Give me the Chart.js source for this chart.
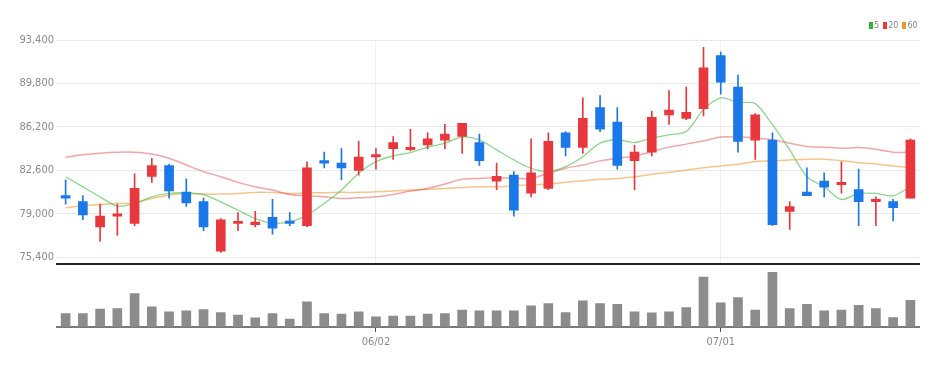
<!DOCTYPE html>
<html lang="en">
<head>
    <meta charset="UTF-8">
    <title>Price chart</title>
    <style>
        body { margin: 0; background: #fff; }
        .wrap { position: relative; width: 950px; height: 367px; }
        #priceChart { position: absolute; left: 0; top: 0; }
        #volumeChart { position: absolute; left: 0; top: 266px; }
        .legend {
            position: absolute; left: 869px; top: 20px;
            display: flex; align-items: center;
            font: 9px 'Liberation Sans Narrow', 'DejaVu Sans Condensed', Arial, sans-serif;
            color: #888;
        }
        .legend .box { width: 4px; height: 7px; margin-right: 1px; }
        .legend .txt { margin-right: 4px; }
    </style>
    <script src="https://cdn.jsdelivr.net/npm/chart.js"></script>
</head>
<body>
<div class="wrap">
    <canvas id="priceChart" width="950" height="274"></canvas>
    <canvas id="volumeChart" width="950" height="101"></canvas>
    <div class="legend"><span class="box" style="background:#2db82d"></span><span class="txt">5</span><span class="box" style="background:#e8383d"></span><span class="txt">20</span><span class="box" style="background:#f0962d"></span><span class="txt">60</span></div>
</div>

<script>
    // trading days (2022)
    const dates = ['05/06','05/09','05/10','05/11','05/12','05/13','05/16','05/17','05/18','05/19',
        '05/20','05/23','05/24','05/25','05/26','05/27','05/30','05/31','06/02','06/03',
        '06/07','06/08','06/09','06/10','06/13','06/14','06/15','06/16','06/17','06/20',
        '06/21','06/22','06/23','06/24','06/27','06/28','06/29','06/30','07/01','07/04',
        '07/05','07/06','07/07','07/08','07/11','07/12','07/13','07/14','07/15','07/18'];
    const tickDates = ['06/02', '07/01'];
    const priceTicks = [75400, 79000, 82600, 86200, 89800, 93400];

    // OHLC
    const open  = [80500,80000,77900,78800,78200,82100,83000,80800,80000,75900,
                   78200,78100,78700,78400,78000,83400,83200,82600,83700,84400,
                   84300,84700,85100,85400,84900,81700,82200,80700,81100,85700,
                   84500,87800,86600,83400,84100,87200,86900,87700,92100,89500,
                   85100,85100,79200,80800,81700,81400,81000,80000,80000,80300];
    const high  = [81800,80500,79800,79800,82300,83600,83100,81900,80300,78600,
                   79100,79200,80200,79100,83300,84100,84400,85000,84400,85400,
                   86000,85700,86400,86500,85600,83200,82500,85200,85700,85800,
                   88600,88800,87800,84700,87500,89200,89500,92800,92400,90500,
                   87300,85700,80000,82800,82400,83300,82700,80400,80200,85200];
    const low   = [79800,78500,76700,77200,78000,81600,80300,79600,77600,75800,
                   77600,77900,77300,78000,77900,82800,81800,82200,82700,83500,
                   84200,84400,84400,84000,83000,81000,78800,80400,81000,83800,
                   84000,85800,82700,81000,83800,86400,86800,87100,88900,84100,
                   83500,78000,77700,80500,80400,80700,78000,78000,78400,80300];
    const close = [80300,78900,78800,79000,81100,83000,80900,79900,77900,78500,
                   78300,78300,77800,78200,82800,83200,82800,83700,83900,84900,
                   84500,85200,85600,86500,83400,82100,79300,82400,85000,84500,
                   86900,86000,83000,84100,87000,87600,87400,91100,89900,85000,
                   87200,78100,79600,80500,81200,81600,80000,80200,79500,85100];

    // moving averages
    const ma5  = [82070,81230,80400,79630,79850,80400,80680,80730,80580,79980,
                  79290,78600,78230,78320,78880,79850,80960,82350,83320,83790,
                  84070,84520,84850,85350,85130,84290,83460,82770,82480,82900,
                  83730,84850,85130,84900,85270,85540,85820,87630,88600,88230,
                  88130,86380,84290,82070,81230,80180,80680,80680,80480,81230];
    const ma20 = [83680,83880,84020,84100,84100,83960,83600,83040,82480,82070,
                  81600,81230,80960,80600,80480,80400,80270,80320,80400,80600,
                  80880,81100,81460,81850,81930,81980,81930,81930,82350,82770,
                  83040,83380,83600,83790,84150,84520,84770,85040,85350,85350,
                  85270,85130,84850,84570,84520,84430,84480,84350,84100,84100];
    const ma60 = [79500,79650,79770,79850,79900,80270,80540,80680,80630,80630,
                  80680,80770,80770,80680,80730,80730,80770,80770,80820,80880,
                  80960,81020,81100,81180,81230,81230,81320,81380,81460,81600,
                  81730,81850,81930,82070,82270,82430,82630,82820,82960,83100,
                  83320,83380,83460,83520,83520,83400,83230,83130,82960,82850];

    // volume
    const volume = [800000,800000,1060000,1100000,2000000,1200000,900000,960000,1040000,860000,
                    700000,540000,800000,460000,1500000,800000,760000,900000,600000,640000,
                    640000,760000,800000,1000000,960000,960000,960000,1260000,1400000,860000,
                    1560000,1400000,1360000,900000,840000,900000,1160000,3000000,1440000,1760000,
                    1000000,3300000,1100000,1360000,960000,1000000,1300000,1100000,560000,1600000];

    const UP = '#e8383d', DOWN = '#1a78e8';
    const candleColors = open.map((o, i) => close[i] >= o ? UP : DOWN);
    const axisFont = { family: "'Liberation Sans Narrow', 'DejaVu Sans Condensed', Arial, sans-serif", size: 11 };

    function keepTickDates(axis) {
        axis.ticks = axis.ticks.filter(t => tickDates.includes(dates[t.value]));
    }

    new Chart(document.getElementById('priceChart'), {
        type: 'bar',
        data: {
            labels: dates,
            datasets: [
                {
                    label: 'body',
                    data: open.map((o, i) => [o, close[i]]),
                    backgroundColor: candleColors,
                    barThickness: 9,
                    minBarLength: 2,
                    grouped: false,
                    order: 0
                },
                {
                    label: 'wick',
                    data: low.map((l, i) => [l, high[i]]),
                    backgroundColor: candleColors,
                    barThickness: 1,
                    grouped: false,
                    order: 1
                },
                { type: 'line', label: '5', data: ma5, borderColor: 'rgba(60,190,60,0.6)', borderWidth: 1.3, pointRadius: 0, tension: 0.3, order: 2 },
                { type: 'line', label: '20', data: ma20, borderColor: 'rgba(232,56,61,0.45)', borderWidth: 1.5, pointRadius: 0, tension: 0.3, order: 2 },
                { type: 'line', label: '60', data: ma60, borderColor: 'rgba(240,150,45,0.55)', borderWidth: 1.5, pointRadius: 0, tension: 0.3, order: 2 }
            ]
        },
        options: {
            responsive: false,
            animation: false,
            devicePixelRatio: 1,
            layout: { padding: { top: 40, right: 31, bottom: 1, left: 0 } },
            plugins: { legend: { display: false }, tooltip: { enabled: false } },
            scales: {
                x: {
                    ticks: { display: false },
                    grid: { color: '#f0f0f0', drawTicks: false, offset: false },
                    border: { color: '#222', width: 2 },
                    afterBuildTicks: keepTickDates
                },
                y: {
                    min: 74800,
                    max: 93400,
                    afterBuildTicks: axis => { axis.ticks = priceTicks.map(v => ({ value: v })); },
                    afterFit: axis => { axis.width = 57; },
                    ticks: {
                        color: '#8a8a8a',
                        font: axisFont,
                        padding: 3,
                        callback: v => v.toLocaleString('en-US')
                    },
                    grid: { color: '#e9e9e9', drawTicks: false },
                    border: { display: false }
                }
            }
        }
    });

    new Chart(document.getElementById('volumeChart'), {
        type: 'bar',
        data: {
            labels: dates,
            datasets: [{
                label: 'volume',
                data: volume,
                backgroundColor: '#8c8c8c',
                barThickness: 9
            }]
        },
        options: {
            responsive: false,
            animation: false,
            devicePixelRatio: 1,
            layout: { padding: { top: 6, right: 31, bottom: 14, left: 0 } },
            plugins: { legend: { display: false }, tooltip: { enabled: false } },
            scales: {
                x: {
                    ticks: { color: '#8a8a8a', font: axisFont, padding: 4, maxRotation: 0 },
                    grid: { drawOnChartArea: false, drawTicks: true, tickLength: 5, color: '#444', offset: false },
                    border: { color: '#7a7a7a', width: 2 },
                    afterBuildTicks: keepTickDates
                },
                y: {
                    min: 0,
                    max: 3300000,
                    afterFit: axis => { axis.width = 57; },
                    ticks: { display: false },
                    grid: { display: false },
                    border: { display: false }
                }
            }
        }
    });
</script>
</body>
</html>
